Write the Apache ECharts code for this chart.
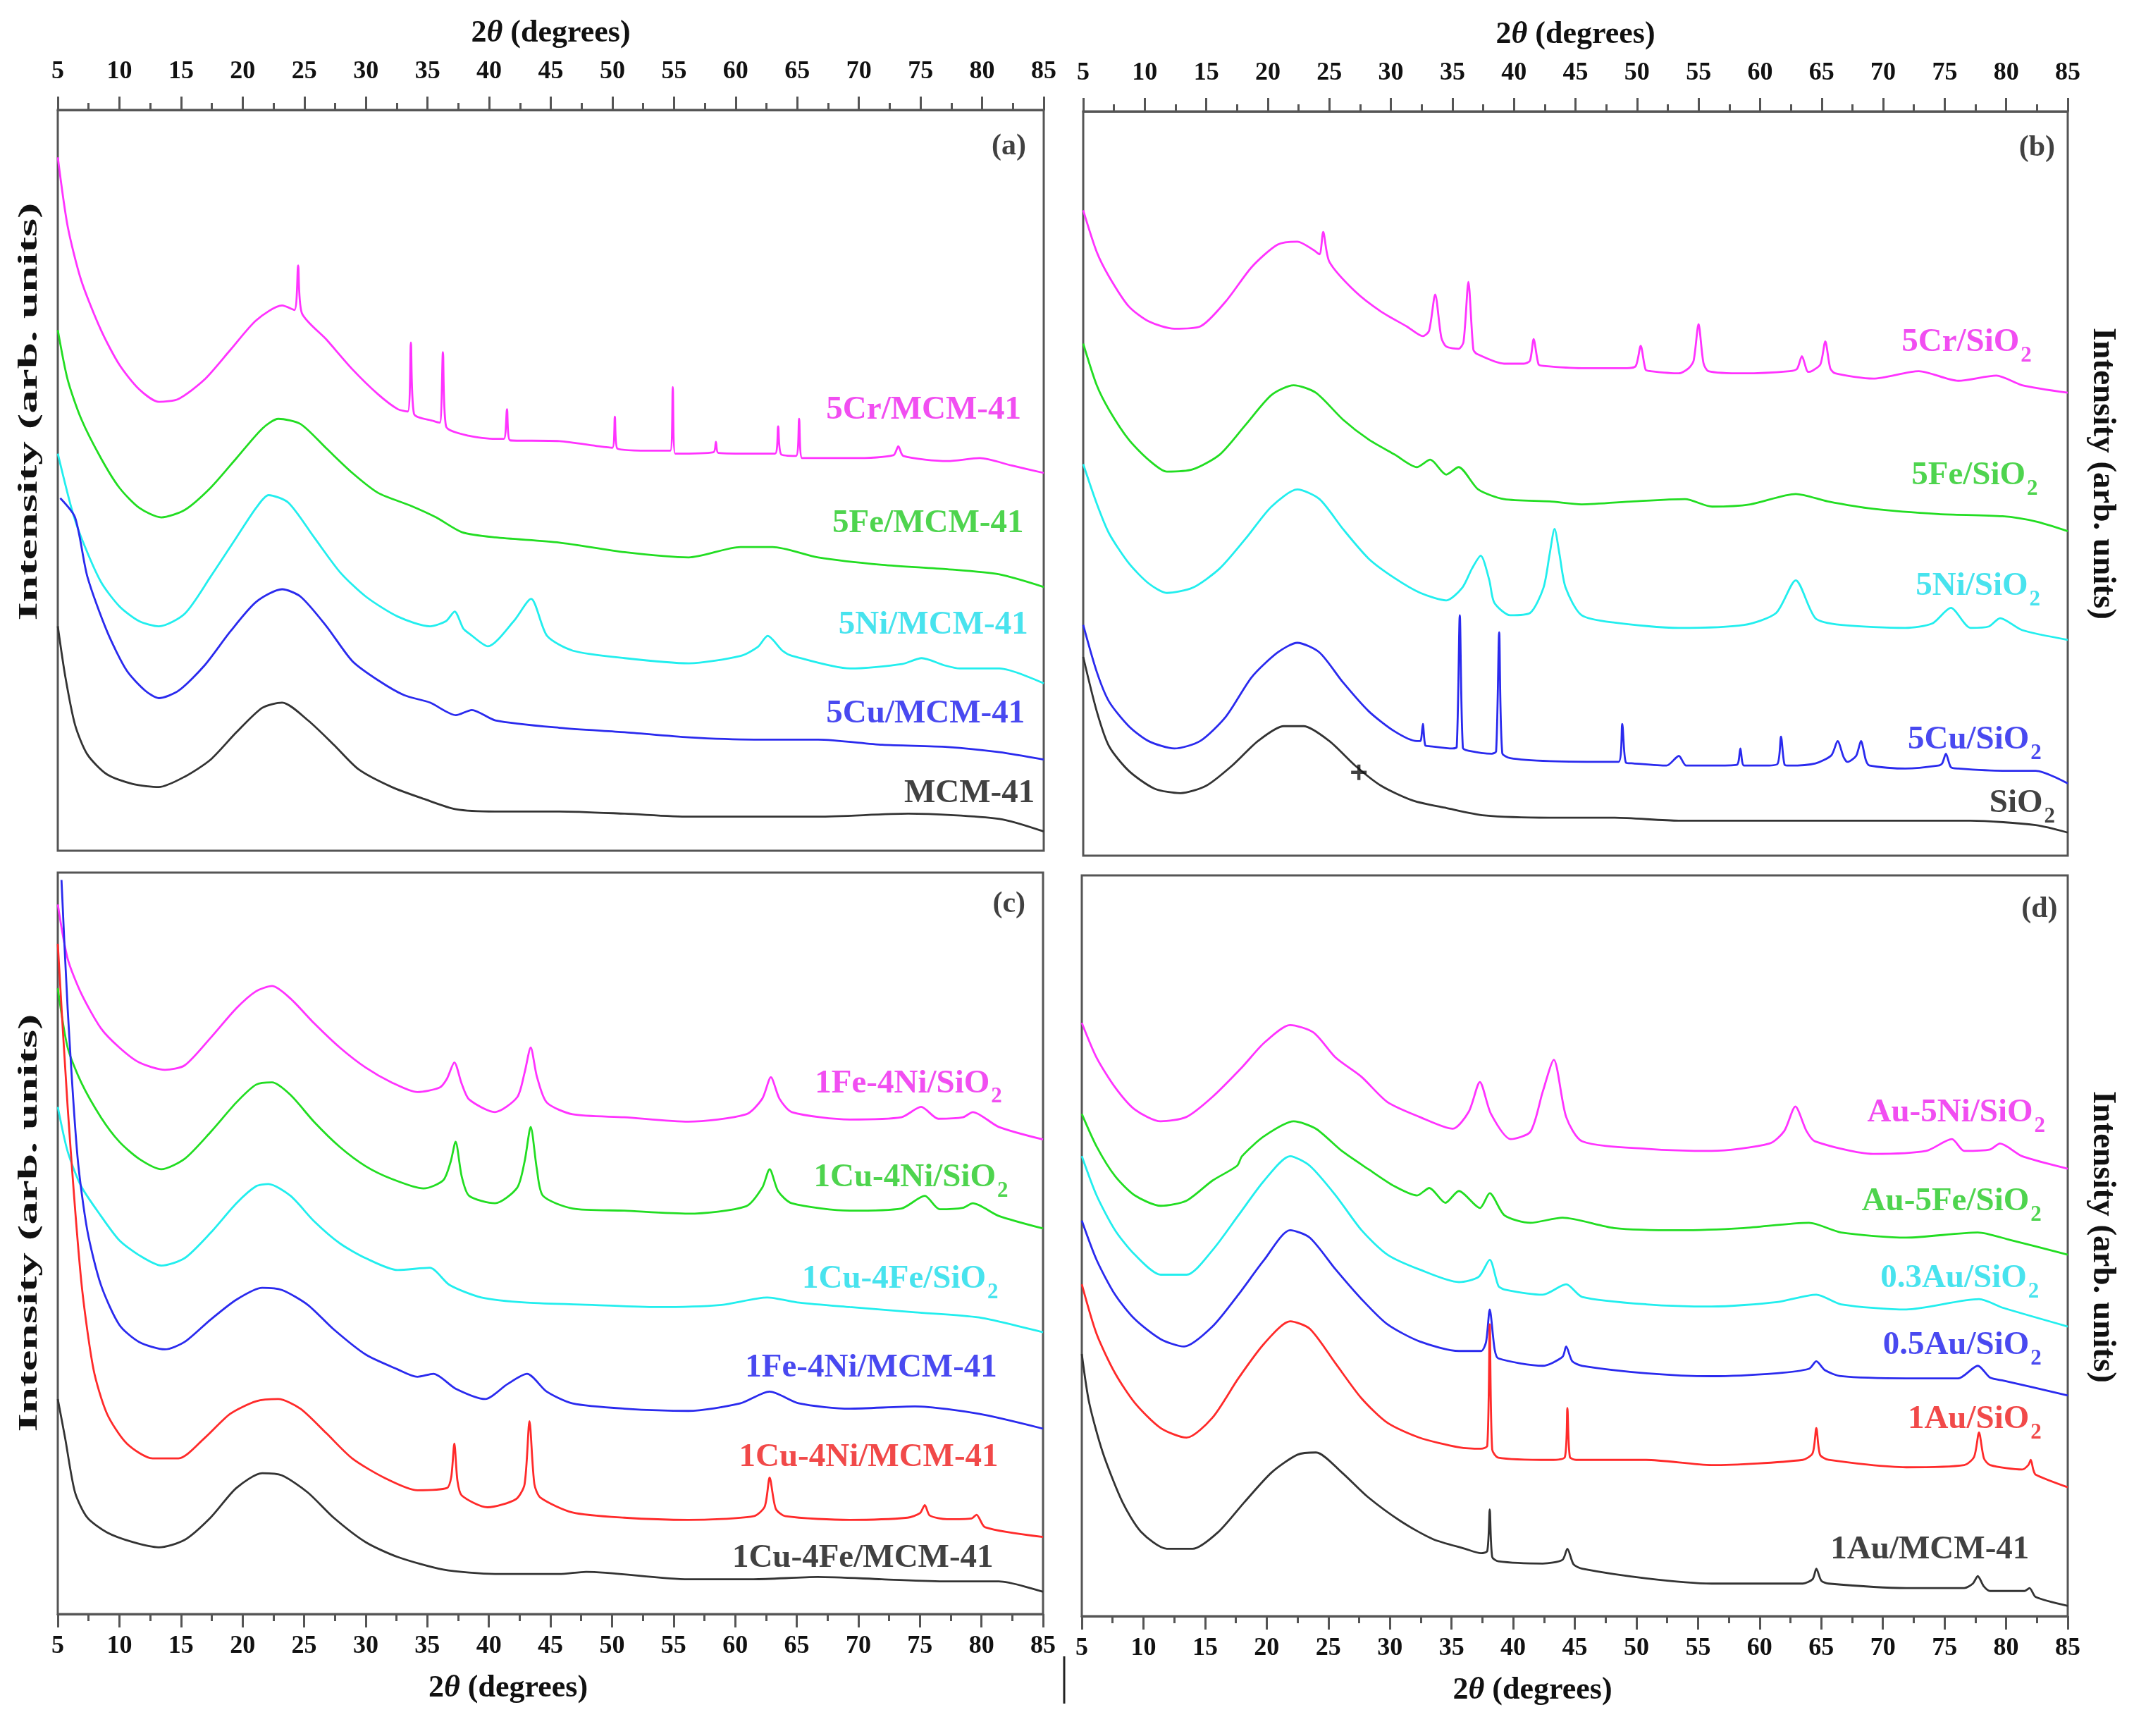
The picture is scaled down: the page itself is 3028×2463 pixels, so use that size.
<!DOCTYPE html>
<html>
<head>
<meta charset="utf-8">
<script src="https://cdn.jsdelivr.net/npm/echarts@6/dist/echarts.min.js"></script>
<style>
  html, body { margin: 0; padding: 0; background: #fff; }
  #xrd { width: 3028px; height: 2463px; }
</style>
</head>
<body>
<div id="xrd"></div>
<script>
// XRD patterns, 2theta (deg) vs intensity (arb. units, 0-100 per panel)

// ---- panel (a) ----
var a_Cr = [[5.0,93.6],[5.8,84.3],[6.9,77.0],[8.5,70.3],[10.0,65.6],[11.6,62.3],[13.2,60.6],[14.8,61.0],[16.9,63.6],[19.0,67.6],[21.1,71.6],[23.2,73.6],[24.2,73.0],[24.5,79.0],[24.8,72.6],[26.8,69.0],[28.9,65.0],[31.0,61.6],[32.6,59.6],[33.4,59.3],[33.65,68.6],[33.9,59.0],[35.5,58.0],[36.0,57.8],[36.25,67.3],[36.5,57.3],[38.4,56.0],[40.5,55.6],[41.2,55.6],[41.45,59.6],[41.7,55.4],[45.7,55.3],[48.9,54.6],[50.0,54.4],[50.2,58.6],[50.4,54.3],[53.6,54.0],[54.7,54.0],[54.9,62.6],[55.1,53.6],[58.2,53.8],[58.4,55.2],[58.6,53.7],[61.5,53.6],[63.2,53.6],[63.45,57.3],[63.7,53.5],[64.9,53.3],[65.15,58.3],[65.4,53.0],[69.3,53.0],[72.8,53.4],[73.2,54.6],[73.6,53.3],[77.2,52.6],[79.8,53.0],[82.4,52.0],[85.0,51.0]];
var a_Fe = [[5.0,70.3],[5.8,63.6],[6.9,58.3],[8.5,53.0],[10.0,49.0],[11.6,46.3],[13.4,45.0],[15.3,46.0],[17.4,49.0],[19.5,53.0],[21.6,57.0],[22.9,58.3],[24.7,57.6],[26.8,54.3],[28.9,51.0],[31.0,48.3],[33.6,46.6],[35.7,45.0],[37.8,43.0],[40.5,42.3],[45.7,41.6],[51.0,40.3],[56.2,39.6],[60.4,41.0],[63.0,41.0],[66.7,39.6],[71.9,38.6],[77.2,38.0],[81.4,37.3],[85.0,35.6]];
var a_Ni = [[5.0,53.6],[6.1,46.3],[6.9,42.3],[8.5,36.3],[10.0,33.0],[11.6,31.0],[13.2,30.3],[15.3,32.0],[17.4,37.0],[19.5,42.3],[21.1,46.3],[22.1,48.0],[23.7,47.0],[25.8,42.3],[27.9,37.6],[30.0,34.3],[32.6,31.6],[35.2,30.3],[36.5,31.0],[37.2,32.3],[37.9,30.0],[38.4,29.3],[39.9,27.6],[42.0,31.0],[43.4,34.0],[44.7,29.0],[46.8,27.0],[51.0,26.0],[56.2,25.3],[60.4,26.3],[61.8,27.5],[62.6,29.0],[63.8,27.0],[64.6,26.3],[69.3,24.6],[73.5,25.2],[75.1,26.0],[77.0,25.0],[78.2,24.6],[81.4,24.6],[85.0,22.6]];
var a_Cu = [[5.2,47.6],[6.4,45.0],[7.4,37.0],[9.0,29.6],[10.6,24.3],[12.1,21.6],[13.2,20.6],[14.8,21.6],[16.9,25.0],[19.0,29.6],[21.1,33.6],[23.2,35.3],[24.7,34.3],[26.8,30.3],[28.9,25.6],[31.0,23.0],[33.1,21.0],[35.2,20.0],[37.3,18.3],[38.6,19.0],[40.5,17.6],[45.7,16.6],[51.0,16.0],[56.2,15.3],[61.5,15.0],[66.7,15.0],[71.9,14.3],[77.2,14.0],[81.4,13.3],[85.0,12.3]];
var a_MCM = [[5.0,30.3],[5.6,23.6],[6.4,17.0],[7.4,13.0],[9.0,10.3],[11.1,9.0],[13.2,8.6],[15.3,10.0],[17.4,12.3],[19.5,16.0],[21.6,19.3],[23.2,20.0],[25.3,17.6],[27.4,14.3],[29.4,11.0],[32.1,8.6],[34.7,7.0],[37.3,5.6],[40.5,5.3],[45.7,5.3],[51.0,5.0],[56.2,4.6],[61.5,4.6],[66.7,4.6],[74.0,5.0],[81.4,4.3],[85.0,2.6]];
var namesA = ['5Cr/MCM-41', '5Fe/MCM-41', '5Ni/MCM-41', '5Cu/MCM-41', 'MCM-41'];
var labelAtA = [[83.2,59.3],[83.4,44.0],[83.75,30.3],[83.5,18.3],[84.3,7.6]];

// ---- panel (b) ----
var b_Cr = [[5.0,86.7],[6.1,81.1],[7.1,77.8],[8.7,73.8],[10.3,71.8],[12.4,70.8],[14.5,71.1],[16.6,74.5],[18.7,79.1],[20.8,82.1],[22.4,82.5],[23.7,81.4],[24.2,80.8],[24.5,83.8],[25.0,79.8],[27.1,75.8],[29.2,73.1],[31.3,71.1],[32.6,69.8],[33.1,70.5],[33.6,75.4],[34.1,69.6],[34.5,68.4],[35.5,68.1],[35.9,69.0],[36.3,77.1],[36.7,68.0],[37.0,67.4],[39.2,66.1],[40.8,66.1],[41.3,66.5],[41.6,69.4],[42.0,66.0],[42.4,65.8],[45.5,65.5],[49.2,65.5],[49.9,65.8],[50.3,68.5],[50.7,65.3],[51.1,65.1],[53.4,64.8],[54.2,65.5],[54.6,66.5],[55.0,71.4],[55.4,66.2],[55.8,65.1],[58.7,64.8],[62.4,65.1],[63.0,65.4],[63.4,67.1],[63.9,65.0],[64.2,65.1],[64.9,66.0],[65.3,69.1],[65.7,65.5],[66.1,64.8],[69.2,64.1],[72.9,65.1],[76.1,63.8],[79.2,64.5],[81.3,63.2],[85.0,62.2]];
var b_Fe = [[5.0,68.8],[6.1,63.2],[7.1,59.9],[8.7,55.9],[10.3,53.2],[11.8,51.6],[13.9,51.9],[16.1,53.9],[18.2,57.9],[20.3,61.9],[22.1,63.2],[23.9,62.2],[26.1,58.6],[28.2,55.9],[30.3,53.9],[32.1,52.2],[33.2,53.2],[34.5,51.2],[35.5,52.2],[37.1,49.2],[39.2,47.9],[42.9,47.6],[45.5,47.2],[49.7,47.6],[53.9,47.9],[56.1,46.9],[59.2,47.2],[62.9,48.6],[65.5,47.6],[69.2,46.6],[74.5,45.9],[79.7,45.6],[82.4,44.9],[85.0,43.6]];
var b_Ni = [[5.0,52.6],[6.1,47.3],[7.1,43.3],[8.7,39.3],[10.3,36.6],[11.8,35.3],[13.9,36.0],[16.1,38.6],[18.2,42.6],[20.3,46.9],[22.4,49.2],[24.2,47.9],[26.1,43.9],[28.2,39.9],[30.3,37.3],[32.4,35.3],[34.5,34.3],[35.8,36.0],[36.6,38.6],[37.3,40.3],[38.0,37.0],[38.4,34.0],[39.7,32.3],[41.3,32.6],[42.4,36.0],[42.9,40.5],[43.3,43.9],[43.7,40.5],[44.2,36.0],[45.5,32.3],[48.2,31.3],[53.4,30.6],[58.7,31.0],[61.3,32.6],[62.9,37.0],[64.5,31.9],[66.6,31.0],[71.8,30.6],[74.0,31.2],[75.5,33.3],[77.1,30.6],[78.6,30.8],[79.5,31.9],[81.3,30.3],[85.0,29.0]];
var b_Cu = [[5.0,31.0],[6.1,24.7],[7.1,20.7],[8.7,17.4],[10.3,15.4],[12.4,14.4],[14.5,15.4],[16.6,18.7],[18.7,24.0],[20.8,27.3],[22.4,28.6],[24.2,27.3],[26.1,23.3],[28.2,19.4],[30.3,16.7],[32.1,15.4],[32.4,15.4],[32.6,17.7],[32.8,14.8],[33.2,14.7],[35.0,14.4],[35.35,14.6],[35.6,32.3],[35.85,14.5],[36.3,14.1],[38.2,13.7],[38.55,14.0],[38.8,30.0],[39.05,13.8],[39.7,13.1],[42.9,12.7],[48.5,12.6],[48.8,17.7],[49.1,12.5],[49.7,12.4],[52.4,12.1],[53.4,13.4],[54.0,12.1],[56.1,12.1],[58.1,12.2],[58.4,14.4],[58.7,12.1],[60.3,12.1],[61.4,12.3],[61.7,16.0],[62.0,12.2],[62.4,12.1],[64.5,12.4],[65.8,13.5],[66.3,15.4],[66.8,13.2],[67.1,12.6],[67.8,13.4],[68.2,15.4],[68.6,12.8],[68.9,12.1],[71.8,11.7],[74.5,12.1],[74.8,12.4],[75.1,13.7],[75.5,11.9],[76.1,11.7],[79.7,11.4],[82.4,11.4],[85.0,9.7]];
var b_SiO2 = [[5.0,26.7],[6.1,19.4],[7.1,14.7],[8.7,11.4],[10.8,9.0],[12.9,8.4],[15.0,9.4],[17.1,12.1],[19.2,15.4],[21.3,17.4],[22.9,17.4],[25.0,15.4],[27.1,12.1],[29.2,9.4],[31.8,7.4],[34.5,6.4],[37.6,5.4],[42.9,5.1],[48.2,5.1],[53.4,4.7],[61.3,4.7],[69.2,4.7],[77.1,4.7],[82.4,4.1],[85.0,3.1]];
var namesB = ['5Cr/SiO2', '5Fe/SiO2', '5Ni/SiO2', '5Cu/SiO2', 'SiO2'];
var labelAtB = [[82.1,68.8],[82.6,50.9],[82.8,36.0],[82.9,15.4],[84.0,6.9]];
var crossB = [[27.4,11.2]];

// ---- panel (c) ----
var c_FeNi_Si = [[5.0,95.7],[5.8,88.4],[6.9,83.7],[8.5,79.0],[10.0,76.4],[11.6,74.4],[13.7,73.4],[15.3,74.0],[17.4,77.7],[19.5,81.7],[21.1,84.0],[22.4,84.7],[23.9,83.0],[25.8,79.7],[27.9,76.4],[30.0,73.7],[32.1,71.7],[34.2,70.4],[36.0,71.0],[36.6,72.2],[37.2,74.4],[37.8,71.5],[38.4,69.4],[40.5,67.7],[42.3,69.7],[42.9,73.0],[43.4,76.4],[43.9,72.5],[44.7,69.0],[46.8,67.4],[51.0,67.0],[56.2,66.4],[60.9,67.4],[62.2,69.5],[62.9,72.4],[63.6,69.5],[64.6,67.7],[69.3,66.7],[73.5,67.0],[75.1,68.4],[76.5,66.8],[78.5,67.0],[79.3,67.7],[81.4,65.7],[85.0,64.0]];
var c_CuNi_Si = [[5.0,84.4],[5.8,76.4],[6.9,71.7],[8.5,67.0],[10.0,63.7],[11.6,61.4],[13.4,60.0],[15.3,61.4],[17.4,65.0],[19.5,69.0],[21.1,71.4],[22.4,71.7],[23.9,70.0],[25.8,66.4],[27.9,63.0],[30.0,60.4],[32.1,58.7],[34.7,57.4],[36.3,58.5],[36.9,61.0],[37.3,63.7],[37.8,59.0],[38.4,56.4],[40.5,55.4],[42.3,57.5],[42.9,61.0],[43.4,65.7],[43.9,60.0],[44.4,56.4],[46.8,54.7],[51.0,54.4],[56.2,54.0],[60.9,55.0],[62.2,57.5],[62.8,60.0],[63.5,57.0],[64.6,55.4],[69.3,54.4],[73.5,54.7],[75.4,56.4],[76.6,54.6],[78.5,54.8],[79.3,55.4],[81.4,53.7],[85.0,52.0]];
var c_CuFe_Si = [[5.0,68.4],[5.8,62.4],[6.9,57.7],[8.5,53.7],[10.0,50.4],[11.6,48.4],[13.4,47.0],[15.3,48.0],[17.4,51.4],[19.5,55.4],[21.1,57.7],[22.1,58.0],[23.9,56.4],[25.8,53.0],[27.9,50.0],[30.0,48.0],[32.6,46.4],[35.2,46.7],[36.8,44.4],[39.4,42.7],[43.1,42.0],[48.4,41.7],[53.6,41.4],[58.9,41.7],[62.6,42.7],[65.2,42.0],[69.3,41.4],[74.6,40.7],[79.8,40.0],[85.0,38.0]];
var c_FeNi_MCM = [[5.3,99.0],[5.8,81.7],[6.6,61.7],[7.4,51.7],[8.5,44.4],[10.0,39.0],[11.6,36.7],[13.7,35.7],[15.3,36.7],[17.4,39.7],[19.5,42.4],[21.6,44.0],[23.2,43.7],[25.3,41.7],[27.4,38.4],[30.0,35.0],[32.6,33.0],[34.2,32.0],[35.5,32.4],[37.3,30.4],[39.7,29.0],[41.5,31.0],[43.1,32.4],[44.7,30.0],[46.8,28.4],[51.0,27.7],[56.2,27.4],[60.4,28.4],[62.8,30.0],[65.2,28.4],[69.3,27.7],[74.6,28.0],[79.8,27.0],[85.0,25.0]];
var c_CuNi_MCM = [[5.0,90.4],[5.8,68.4],[6.9,45.0],[7.9,33.0],[9.0,27.0],[10.6,23.0],[12.7,21.0],[14.8,21.0],[16.9,23.7],[19.0,27.0],[21.1,28.7],[22.9,29.0],[24.7,27.7],[26.8,24.4],[28.9,21.0],[31.5,18.4],[34.2,16.7],[36.6,17.0],[36.95,18.5],[37.2,23.0],[37.45,18.0],[37.8,16.0],[39.9,14.4],[42.2,15.5],[42.9,17.5],[43.3,26.0],[43.7,17.5],[44.2,15.7],[46.8,13.7],[51.0,13.0],[56.2,12.7],[61.5,13.2],[62.4,14.5],[62.8,18.4],[63.3,14.2],[64.1,13.2],[69.3,12.7],[74.0,13.0],[75.0,13.6],[75.4,14.7],[75.8,13.3],[77.2,12.8],[79.2,12.9],[79.6,13.4],[80.3,11.7],[85.0,10.4]];
var c_CuFe_MCM = [[5.0,29.0],[5.6,23.7],[6.4,16.4],[7.4,13.0],[9.0,11.0],[11.1,9.7],[13.2,9.0],[15.3,10.0],[17.4,13.0],[19.5,17.0],[21.6,19.0],[23.2,18.7],[25.3,16.4],[27.4,13.0],[30.0,9.7],[32.6,7.7],[36.3,6.0],[40.5,5.4],[45.7,5.4],[47.9,5.7],[56.2,4.7],[61.5,4.7],[66.7,5.0],[71.9,4.7],[77.2,4.4],[81.4,4.4],[85.0,3.0]];
var namesC = ['1Fe-4Ni/SiO2', '1Cu-4Ni/SiO2', '1Cu-4Fe/SiO2', '1Fe-4Ni/MCM-41', '1Cu-4Ni/MCM-41', '1Cu-4Fe/MCM-41'];
var labelAtC = [[81.7,71.4],[82.2,58.7],[81.4,45.0],[81.3,33.0],[81.4,21.0],[81.0,7.4]];

// ---- panel (d) ----
var d_AuNi = [[5.0,80.1],[6.2,75.4],[7.7,71.4],[9.3,68.4],[11.4,66.8],[13.5,67.4],[15.6,70.1],[18.0,74.1],[19.8,77.4],[21.9,79.8],[23.8,78.8],[25.6,75.4],[27.7,72.8],[29.8,69.4],[32.4,67.4],[35.1,65.8],[36.4,68.1],[37.3,72.1],[38.2,67.8],[39.8,64.4],[41.4,65.4],[42.4,70.8],[43.3,75.1],[44.3,67.4],[45.6,64.1],[50.8,63.1],[56.1,62.8],[60.8,63.8],[62.0,65.5],[62.9,68.8],[63.8,65.5],[64.5,64.1],[69.2,62.4],[73.5,62.8],[75.6,64.4],[76.6,62.8],[78.7,63.0],[79.5,63.8],[81.3,62.1],[85.0,60.4]];
var d_AuFe = [[5.0,67.8],[6.2,63.4],[7.7,59.4],[9.3,56.8],[11.4,55.4],[13.5,56.1],[15.6,58.8],[17.6,60.8],[18.0,62.1],[19.8,64.8],[22.2,66.8],[24.0,65.8],[26.1,62.8],[28.2,60.4],[30.3,58.1],[32.2,56.8],[33.2,57.8],[34.5,55.8],[35.6,57.4],[37.3,55.1],[38.1,57.1],[39.3,54.1],[41.4,53.1],[44.0,53.8],[48.2,52.4],[53.5,52.1],[58.7,52.4],[64.0,53.1],[66.6,51.8],[71.9,51.1],[77.7,51.8],[80.3,50.8],[85.0,48.8]];
var d_03Au = [[5.0,62.1],[6.2,56.8],[7.7,52.1],[9.3,48.8],[11.4,46.1],[13.5,46.1],[15.6,49.4],[17.7,54.1],[19.8,58.8],[21.9,62.1],[23.5,60.8],[25.6,56.8],[27.7,52.1],[29.8,48.8],[32.4,46.8],[35.6,45.1],[37.2,45.8],[38.1,48.1],[38.8,44.6],[39.3,44.1],[42.4,43.4],[44.3,44.8],[45.6,43.1],[50.8,42.1],[56.1,41.8],[61.4,42.4],[64.6,43.4],[66.6,42.1],[71.9,41.4],[77.8,42.8],[79.8,41.6],[85.0,39.1]];
var d_05Au = [[5.0,53.4],[6.2,48.1],[7.7,43.4],[9.3,40.1],[11.4,37.4],[13.3,36.4],[15.6,39.1],[17.7,43.4],[19.8,48.1],[21.9,52.1],[23.5,51.1],[25.6,46.8],[27.7,42.8],[29.8,39.4],[32.4,37.1],[35.6,35.8],[37.4,35.8],[37.8,37.0],[38.1,41.4],[38.5,36.0],[38.8,34.8],[42.4,33.8],[44.0,35.0],[44.3,36.4],[44.8,34.4],[45.6,33.8],[50.8,32.8],[56.1,32.4],[61.4,32.8],[64.0,33.4],[64.6,34.4],[65.3,33.2],[66.6,32.4],[71.9,32.1],[76.1,32.1],[77.7,33.8],[78.7,32.2],[79.8,31.8],[85.0,29.8]];
var d_1Au = [[5.0,44.8],[6.2,38.1],[7.7,32.8],[9.3,28.8],[11.4,25.4],[13.5,24.1],[15.6,26.8],[17.7,32.1],[19.8,36.8],[21.9,39.8],[23.5,38.8],[25.6,34.1],[27.7,29.4],[29.8,26.1],[32.4,24.1],[35.6,22.8],[37.4,22.6],[37.9,23.0],[38.1,39.4],[38.3,22.5],[38.8,21.4],[43.0,21.1],[44.2,21.5],[44.4,28.1],[44.6,21.5],[45.1,21.1],[50.8,21.1],[56.1,20.4],[63.5,21.1],[64.3,22.0],[64.6,25.4],[64.9,21.8],[65.6,21.1],[71.9,20.1],[76.6,20.4],[77.4,21.5],[77.8,24.8],[78.2,21.3],[78.7,20.4],[81.3,19.8],[81.8,20.4],[82.0,21.1],[82.2,19.8],[82.4,19.1],[85.0,17.4]];
var d_1AuMCM = [[5.0,35.4],[5.6,28.8],[6.7,22.1],[8.3,15.4],[9.8,11.4],[11.9,9.1],[14.0,9.1],[16.1,11.4],[18.2,15.4],[20.4,19.4],[22.5,21.8],[24.0,22.1],[26.1,19.4],[28.2,16.1],[30.9,12.8],[33.5,10.4],[36.1,9.1],[37.4,8.5],[37.9,8.8],[38.1,14.4],[38.3,8.0],[38.8,7.4],[42.4,7.1],[44.0,7.6],[44.4,9.1],[44.9,7.0],[45.6,6.4],[50.8,5.1],[56.1,4.4],[63.5,4.4],[64.3,5.0],[64.6,6.4],[65.0,4.8],[65.6,4.4],[71.9,3.8],[76.6,3.8],[77.3,4.4],[77.7,5.4],[78.2,4.0],[78.7,3.4],[81.5,3.4],[81.9,3.8],[82.4,2.6],[85.0,1.4]];
var namesD = ['Au-5Ni/SiO2', 'Au-5Fe/SiO2', '0.3Au/SiO2', '0.5Au/SiO2', '1Au/SiO2', '1Au/MCM-41'];
var labelAtD = [[83.2,67.8],[82.9,55.8],[82.7,45.4],[82.9,36.4],[82.9,26.4],[81.9,8.8]];

var panelLetters = ['(a)', '(b)', '(c)', '(d)'];
var letterAt = [[83.6,95.0],[84.0,95.1],[83.6,95.7],[84.2,95.4]];

// magenta, green, cyan, blue, red, black
var lineColors = ['#ff33ff', '#22dd22', '#22eeee', '#2a2aee', '#ff2a2a', '#333333'];
var textColors = ['#ee22ee', '#22c922', '#1adcea', '#1c1cec', '#ee1c1c', '#111111'];

var FONT = '"Liberation Serif", "DejaVu Serif", serif';
var AXIS_C = '#555';

var panels = [
    { grid: { left: 82, top: 156, width: 1399, height: 1051 }, side: 'top',
      curves: [a_Cr, a_Fe, a_Ni, a_Cu, a_MCM], names: namesA, labelAt: labelAtA, colorIdx: [0, 1, 2, 3, 5] },
    { grid: { left: 1537, top: 158, width: 1397, height: 1056 }, side: 'top',
      curves: [b_Cr, b_Fe, b_Ni, b_Cu, b_SiO2], names: namesB, labelAt: labelAtB, colorIdx: [0, 1, 2, 3, 5] },
    { grid: { left: 82, top: 1238, width: 1398, height: 1052 }, side: 'bottom',
      curves: [c_FeNi_Si, c_CuNi_Si, c_CuFe_Si, c_FeNi_MCM, c_CuNi_MCM, c_CuFe_MCM], names: namesC, labelAt: labelAtC, colorIdx: [0, 1, 2, 3, 4, 5] },
    { grid: { left: 1535, top: 1242, width: 1399, height: 1051 }, side: 'bottom',
      curves: [d_AuNi, d_AuFe, d_03Au, d_05Au, d_1Au, d_1AuMCM], names: namesD, labelAt: labelAtD, colorIdx: [0, 1, 2, 3, 4, 5] }
];

// "SiO2" -> rich text with a lowered 2
function richName(t) {
    if (t.charAt(0) === '(') return '{p|' + t + '}';
    if (t.slice(-2) === 'O2') return '{m|' + t.slice(0, -1) + '}{s|2}';
    return '{m|' + t + '}';
}

var grids = [], xAxes = [], yAxes = [], series = [];

panels.forEach(function (p, i) {
    grids.push(Object.assign({
        show: true, borderColor: AXIS_C, borderWidth: 3,
        backgroundColor: 'transparent', containLabel: false, outerBoundsMode: 'none'
    }, p.grid));

    var top = p.side === 'top';
    xAxes.push({
        gridIndex: i, type: 'value', position: p.side,
        min: 5, max: 85, interval: 5,
        name: '{n|2}{i|θ}{n| (degrees)}',
        nameLocation: 'middle', nameGap: top ? 86 : 84,
        nameTextStyle: {
            padding: top ? [0, 0, 0, 0] : [0, 120, 0, 0],
            rich: {
                n: { fontSize: 44, fontWeight: 'bold', fontFamily: FONT, color: '#111' },
                i: { fontSize: 44, fontWeight: 'bold', fontStyle: 'italic', fontFamily: FONT, color: '#111' }
            }
        },
        axisLine: { show: true, onZero: false, lineStyle: { color: AXIS_C, width: 3 } },
        axisTick: { show: true, inside: false, length: 19, lineStyle: { color: AXIS_C, width: 3 } },
        minorTick: { show: true, splitNumber: 2, length: 10, lineStyle: { color: AXIS_C, width: 3 } },
        splitLine: { show: false },
        minorSplitLine: { show: false },
        axisLabel: {
            show: true, margin: top ? 36 : 28, hideOverlap: false,
            showMinLabel: true, showMaxLabel: true,
            fontSize: 36, fontWeight: 'bold', fontFamily: FONT, color: '#111'
        }
    });
    yAxes.push({ gridIndex: i, type: 'value', min: 0, max: 100, show: false });

    p.curves.forEach(function (d, k) {
        series.push({
            type: 'line', xAxisIndex: i, yAxisIndex: i,
            name: p.names[k], data: d,
            symbol: 'none', smooth: 0.25,
            lineStyle: { width: 2.8, color: lineColors[p.colorIdx[k]] },
            z: 2
        });
    });

    var labelData = p.labelAt.map(function (pos, k) {
        return { value: pos, name: p.names[k], label: { color: textColors[p.colorIdx[k]] } };
    });
    labelData.push({ value: letterAt[i], name: panelLetters[i], label: { color: '#111' } });

    series.push({
        type: 'scatter', xAxisIndex: i, yAxisIndex: i,
        data: labelData, symbolSize: 1, itemStyle: { color: 'rgba(255,255,255,0)' },
        z: 10, clip: false,
        label: {
            show: true, position: 'left', distance: 0,
            formatter: function (q) { return richName(q.name); },
            rich: {
                m: { fontSize: 47, fontWeight: 'bold', fontFamily: FONT, lineHeight: 50, verticalAlign: 'top' },
                s: { fontSize: 31, fontWeight: 'bold', fontFamily: FONT, lineHeight: 30, padding: [27, 0, 0, 2], verticalAlign: 'top' },
                p: { fontSize: 42, fontWeight: 'bold', fontFamily: FONT, lineHeight: 50, color: '#111' }
            }
        },
        labelLayout: { hideOverlap: false }
    });
});

// small cross marker in panel (b)
series.push({
    type: 'scatter', xAxisIndex: 1, yAxisIndex: 1, data: crossB,
    symbol: 'path://M4,0H6V4H10V6H6V10H4V6H0V4H4Z', symbolSize: 22,
    itemStyle: { color: '#111' }, z: 11
});

function yTitle(x, y, rot, sx, size) {
    return {
        type: 'text', x: x, y: y, rotation: rot, scaleX: sx,
        style: {
            text: 'Intensity (arb. units)', font: 'bold ' + size + 'px ' + FONT,
            fill: '#111', align: 'center', verticalAlign: 'middle'
        }
    };
}

var chart = echarts.init(document.getElementById('xrd'), null, { renderer: 'canvas' });
chart.setOption({
    backgroundColor: '#fff',
    animation: false,
    grid: grids,
    xAxis: xAxes,
    yAxis: yAxes,
    series: series,
    graphic: [
        yTitle(42, 584, Math.PI / 2, 1.82, 37),
        yTitle(42, 1735, Math.PI / 2, 1.82, 37),
        yTitle(2983, 672, -Math.PI / 2, 1.0, 47),
        yTitle(2983, 1755, -Math.PI / 2, 1.0, 47),
        { type: 'line', shape: { x1: 1510, y1: 2350, x2: 1510, y2: 2417 }, style: { stroke: '#222', lineWidth: 3 } }
    ]
});
</script>
</body>
</html>
